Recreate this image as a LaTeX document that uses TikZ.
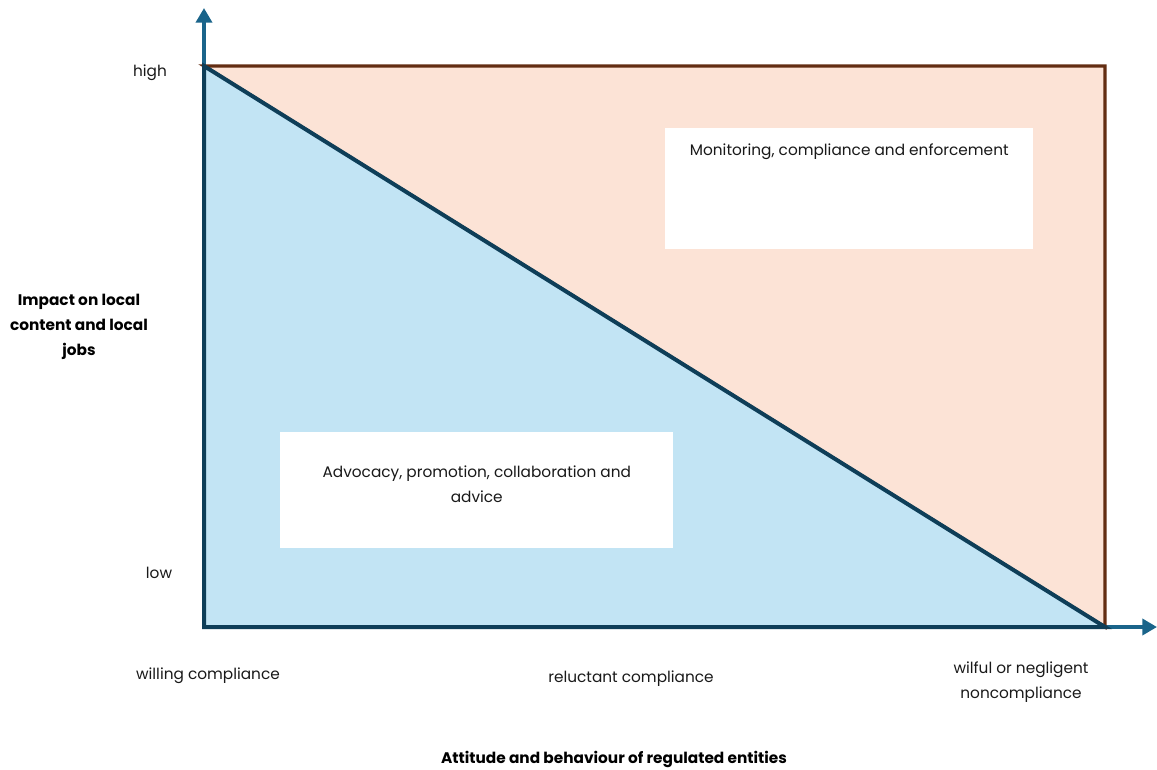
\documentclass[tikz,border=0pt]{standalone}
\usepackage{fontspec}
\setmainfont{Poppins}
\usepackage{tikz}
\usetikzlibrary{arrows.meta,positioning,calc}
\usepackage{xcolor}
\tikzset{>=Stealth}
\definecolor{axiscolor}{RGB}{26,100,138}
\definecolor{lowfill}{RGB}{194,228,244}
\definecolor{lowline}{RGB}{14,62,88}
\definecolor{highfill}{RGB}{252,227,214}
\definecolor{highline}{RGB}{99,45,18}
\tikzset{
  axisline/.style={draw=axiscolor, line width=3pt, -{Triangle[length=11pt,width=12pt]}},
  scalelabel/.style={font=\fontsize{11.5}{18.75}\selectfont, align=center, text=black!90},
  axistitle/.style={font=\fontsize{11.5}{18.75}\selectfont\bfseries, align=center},
  whitebox/.style={fill=white, draw=none, anchor=north west, inner sep=0pt}
}

\begin{document}
\begin{tikzpicture}[x=0.75pt, y=-0.75pt]
  \useasboundingbox (0,0) rectangle (1157,769);
  \coordinate (O) at (204,627);
  \coordinate (T) at (204,8);
  \coordinate (R) at (1157,627);
  \coordinate (H) at (204,66);
  \coordinate (C) at (1105,66);
  \coordinate (E) at (1105,627);

  % axes
  \draw[axisline] (O) -- (T);
  \draw[axisline] (O) -- (R);

  % regions
  \draw[fill=highfill, draw=highline, line width=2.4pt, line join=miter] (H) -- (C) -- (E) -- cycle;
  \draw[fill=lowfill, draw=lowline, line width=3pt, line join=miter] (H) -- (O) -- (E) -- cycle;

  \node[whitebox, minimum width=276pt, minimum height=90.75pt] (monbox) at (665,128) {};
  \node[scalelabel] (montext) at ($(monbox.north)+(0,24)$) {Monitoring, compliance and enforcement};
  \node[whitebox, minimum width=294.75pt, minimum height=87pt] (advbox) at (280,432) {};
  \node[scalelabel] (advtext) at ($(advbox.center)+(0,-6)$) {Advocacy, promotion, collaboration and\\advice};

  % labels
  \node[scalelabel] (high) at (150,73) {high};
  \node[scalelabel] (low) at (159,573) {low};
  \node[scalelabel] (willing) at (208,676) {willing compliance};
  \node[scalelabel] (reluctant) at (631,679) {reluctant compliance};
  \node[scalelabel] (wilful) at (1021,682) {wilful or negligent\\noncompliance};
  \node[axistitle] (impact) at (79,327) {Impact on local\\content and local\\jobs};
  \node[axistitle, inner sep=1pt] (attitude) at (614,759) {Attitude and behaviour of regulated entities};
\end{tikzpicture}
\end{document}
